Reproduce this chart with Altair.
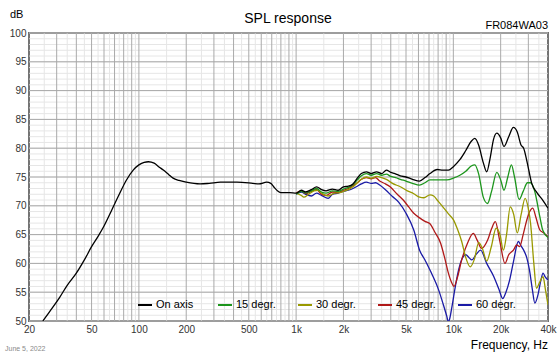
import altair as alt
import pandas as pd

# ---------------- data ----------------
on_freq = [24.5, 27, 31.5, 35, 40, 45, 50, 55, 60, 67, 75, 83, 92, 100, 108, 115, 125, 135, 143, 155,
           165, 180, 200, 245, 280, 330, 420, 530, 580, 650, 690, 720, 760, 800, 910, 1000, 1080, 1150,
           1250, 1350, 1450, 1550, 1700, 1850, 2000, 2150, 2300, 2450, 2600, 2800, 3000, 3250, 3500,
           3750, 4000, 4250, 4600, 5000, 5500, 6100, 6600, 7100, 7900, 8600, 9300, 10000, 11000,
           12000, 13000, 13700, 14500, 15500, 16300, 17200, 18000, 18900, 20000, 21000, 22500, 24100,
           25500, 27000, 28000, 29500, 31500, 34000, 37000, 40000]
on_db = [50.0, 51.6, 54.2, 56.2, 58.3, 60.6, 62.9, 64.7, 66.5, 69.2, 72.0, 74.4, 76.2, 77.1, 77.55, 77.65,
         77.4, 76.7, 76.2, 75.4, 74.8, 74.4, 74.1, 73.8, 73.9, 74.1, 74.1, 73.9, 73.8, 74.1, 73.9, 73.3,
         72.6, 72.3, 72.3, 72.2, 72.7, 72.4, 72.8, 73.3, 72.8, 72.6, 72.9, 72.7, 73.3, 73.4, 73.8, 74.8,
         75.6, 75.9, 75.6, 75.9, 75.6, 76.2, 75.8, 75.6, 75.2, 75.0, 74.6, 74.3, 74.9, 75.6, 76.3, 76.2,
         76.2, 76.8, 78.0, 79.6, 81.2, 81.7, 80.5, 77.5, 75.9, 78.5, 81.5, 82.6, 81.8, 80.3, 82.0, 83.6,
         82.8, 80.5, 80.0, 77.5, 73.9, 72.3, 71.0, 69.6]

d15_freq = [1000, 1080, 1150, 1250, 1350, 1450, 1550, 1700, 1850, 2000, 2150, 2300, 2450, 2600, 2800,
            3000, 3250, 3500, 3750, 4000, 4300, 4600, 5000, 5500, 6100, 6600, 7100, 8000, 9100, 10000,
            11000, 12000, 13000, 13700, 14500, 15500, 16500, 17500, 18900, 20000, 21000, 22200, 23400,
            24500, 26200, 27800, 29600, 31000, 32800, 35500, 37000, 40000]
d15_db = [72.0, 72.5, 72.2, 72.6, 73.0, 72.4, 72.2, 72.6, 72.5, 72.9, 73.2, 73.7, 74.5, 75.2, 75.6,
          75.3, 75.6, 75.3, 75.5, 75.1, 74.9, 74.6, 74.3, 73.9, 73.6, 74.0, 74.5, 74.5, 74.5, 74.8,
          75.3, 76.0, 76.9, 77.1, 75.5, 71.5, 70.4, 72.5, 75.8, 74.5, 72.7, 75.0, 77.1, 75.0, 71.1,
          72.5, 74.0, 74.0, 72.7, 68.1, 65.8, 64.5]

d30_freq = [1000, 1080, 1120, 1200, 1300, 1380, 1450, 1600, 1750, 1900, 2000, 2150, 2300, 2450, 2600,
            2800, 3000, 3250, 3500, 3750, 4100, 4600, 5100, 5600, 6100, 6500, 7100, 7500, 8000, 8700,
            9300, 10000, 10600, 11300, 12000, 12800, 13600, 14500, 15300, 16300, 17400, 18700, 19800,
            20800, 21800, 23000, 24200, 25500, 27000, 28600, 30000, 31000, 32500, 33800, 35500, 37200,
            38500, 40000]
d30_db = [72.2, 71.8, 71.5, 72.0, 72.6, 72.7, 72.2, 71.7, 72.2, 72.3, 72.5, 72.8, 73.3, 74.0, 74.6,
          75.0, 74.8, 75.1, 74.9, 74.6, 73.9, 73.3, 72.6, 72.1, 71.5, 71.4, 71.9, 71.7, 70.8, 69.6,
          68.6, 67.6, 66.0, 63.8, 61.0, 59.4, 60.7, 63.6, 62.6, 60.4, 62.8, 66.1, 65.0, 62.3, 65.0,
          69.8, 68.5, 65.3, 68.5, 71.3, 69.5, 66.9, 60.0, 55.7, 56.8, 57.7, 55.5, 52.8]

d45_freq = [1000, 1080, 1150, 1250, 1350, 1450, 1550, 1700, 1850, 2000, 2150, 2300, 2450, 2600, 2800,
            3000, 3200, 3400, 3700, 3960, 4400, 4800, 5200, 5600, 6100, 6600, 7100, 7600, 8300, 8800,
            9300, 9700, 10100, 10600, 11300, 12300, 13400, 14200, 15100, 16500, 17500, 18500, 19700,
            21300, 22500, 24100, 25300, 26400, 27800, 29300, 30600, 32000, 33500, 35500, 37500, 40000]
d45_db = [72.2, 72.6, 72.1, 72.5, 72.8, 72.0, 71.8, 72.4, 72.3, 72.7, 73.0, 73.5, 74.0, 74.6, 74.9,
          74.7, 74.9, 74.3, 73.8, 73.3, 72.0, 71.0, 69.8, 68.7, 67.9, 67.3, 66.9, 65.5, 63.5, 61.0,
          58.3, 56.8, 56.0, 57.5, 60.6, 63.5, 65.2, 64.0, 62.6, 64.0, 66.0, 67.25, 64.0, 60.0, 61.5,
          62.3, 63.2, 62.9, 65.0, 67.5, 69.0, 69.6, 68.0, 65.8, 65.3, 64.6]

d60_freq = [1000, 1080, 1150, 1250, 1350, 1450, 1600, 1700, 1850, 2000, 2150, 2300, 2450, 2600, 2800,
            3000, 3200, 3400, 3700, 4100, 4500, 5000, 5600, 6100, 6600, 7100, 8060, 8600, 9100, 9300,
            9500, 9800, 10300, 10800, 11400, 12000, 12600, 13100, 14000, 14900, 16300, 18100, 19500,
            20600, 21600, 22800, 24200, 25900, 27000, 28000, 29300, 30500, 31800, 33000, 34500, 36000,
            37200, 38500, 40000]
d60_db = [72.0, 72.4, 72.0, 71.7, 72.2, 71.8, 71.3, 72.0, 72.2, 72.5, 72.7, 73.0, 73.4, 73.8, 74.1,
          73.9, 74.0, 73.6, 72.8, 71.6, 70.6, 68.7, 65.8, 62.3, 60.6, 58.85, 55.4, 53.0, 50.75, 49.8,
          50.5, 52.5, 56.0, 58.85, 60.9, 61.5, 61.0, 60.6, 61.6, 62.3, 60.0, 57.7, 55.5, 53.9, 55.0,
          57.1, 60.5, 63.8, 63.0, 62.3, 61.0, 58.85, 55.5, 53.1, 54.5, 57.0, 58.3, 57.6, 57.1]

series_names = ["On axis", "15 degr.", "30 degr.", "45 degr.", "60 degr."]
series_colors = ["#000000", "#1c951c", "#999900", "#b01818", "#1a1aa6"]

x_tick_values = [20, 50, 100, 200, 500, 1000, 2000, 5000, 10000, 20000, 40000]
y_tick_values = [50, 55, 60, 65, 70, 75, 80, 85, 90, 95, 100]
y_grid_minor = list(range(50, 101))
x_grid_major = [m * 10 ** e for e in (1, 2, 3, 4) for m in range(1, 10) if 20 <= m * 10 ** e <= 40000]
x_grid_minor = [(m + 0.5) * 10 ** e for e in (1, 2, 3, 4) for m in range(1, 10) if 20 <= (m + 0.5) * 10 ** e <= 40000]

# ---------------- build table ----------------
parts = []
for name, f, d in [("60 degr.", d60_freq, d60_db), ("45 degr.", d45_freq, d45_db),
                   ("30 degr.", d30_freq, d30_db), ("15 degr.", d15_freq, d15_db),
                   ("On axis", on_freq, on_db)]:
    parts.append(pd.DataFrame({"freq": f, "db": d, "series": name}))
df = pd.concat(parts, ignore_index=True)

W, H = 519, 288
FONT = "Liberation Sans"

xscale = alt.Scale(type="log", domain=[20, 40000], nice=False)
yscale = alt.Scale(domain=[50, 100], nice=False, zero=False)

x_axis = alt.Axis(values=x_tick_values, grid=False, domain=False, ticks=False, title=None,
                  labelExpr="datum.value >= 1000 ? (datum.value / 1000) + 'k' : datum.value + ''",
                  labelFontSize=10, labelColor="#333333", labelPadding=3, labelFlush=False,
                  labelOverlap=False)
y_axis = alt.Axis(values=y_tick_values, grid=False, domain=False, ticks=False, title=None,
                  labelFontSize=10, labelColor="#333333", labelPadding=3, labelFlush=False,
                  labelOverlap=False)

xg_minor = alt.Chart(pd.DataFrame({"f": x_grid_minor})).mark_rule(color="#e6e6e6", strokeWidth=1).encode(
    x=alt.X("f:Q", scale=xscale, axis=x_axis))
yg_minor = alt.Chart(pd.DataFrame({"v": y_grid_minor})).mark_rule(color="#e6e6e6", strokeWidth=1).encode(
    y=alt.Y("v:Q", scale=yscale, axis=y_axis))
xg_major = alt.Chart(pd.DataFrame({"f": x_grid_major})).mark_rule(color="#aaaaaa", strokeWidth=1).encode(
    x=alt.X("f:Q", scale=xscale, axis=x_axis))
yg_major = alt.Chart(pd.DataFrame({"v": y_tick_values})).mark_rule(color="#a8a8a8", strokeWidth=1).encode(
    y=alt.Y("v:Q", scale=yscale, axis=y_axis))

lines = alt.Chart(df).mark_line(strokeWidth=1.3, clip=True, interpolate="monotone").encode(
    x=alt.X("freq:Q", scale=xscale, axis=x_axis),
    y=alt.Y("db:Q", scale=yscale, axis=y_axis),
    color=alt.Color("series:N", scale=alt.Scale(domain=series_names, range=series_colors),
                    legend=alt.Legend(orient="none", legendX=108, legendY=264, direction="horizontal",
                                      columns=5, gridAlign="all", columnPadding=18, title=None,
                                      symbolType="stroke", symbolSize=196, symbolStrokeWidth=2,
                                      labelFontSize=11, labelColor="#000000", labelOffset=3,
                                      padding=0, labelFont=FONT)),
    detail="series:N",
)


def label(txt, x, y, size, align="left", color="#000000"):
    return alt.Chart(pd.DataFrame({"t": [txt]})).mark_text(
        align=align, baseline="alphabetic", fontSize=size, color=color, font=FONT
    ).encode(x=alt.value(x), y=alt.value(y), text="t:N")


texts = [
    label("dB", -19, -15, 11),
    label("SPL response", 259, -10, 14, align="center"),
    label("FR084WA03", 519, -4, 11, align="right"),
    label("Frequency, Hz", 519, 316, 12, align="right"),
    label("June 5, 2022", -24, 318, 7, color="#8a8a8a"),
]

chart = alt.layer(xg_minor, yg_minor, xg_major, yg_major, lines, *texts).properties(
    width=W, height=H,
    autosize=alt.AutoSizeParams(type="none"),
    padding={"left": 29, "top": 33, "right": 12, "bottom": 35},
).configure(font=FONT).configure_view(stroke="#000000", strokeWidth=1.5)

chart.save("out.html", embed_options={"renderer": "svg", "actions": False})
